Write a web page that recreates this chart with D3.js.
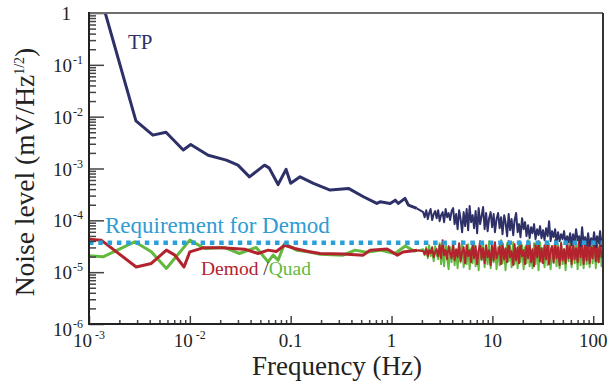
<!DOCTYPE html>
<html>
<head>
<meta charset="utf-8">
<script src="https://cdn.jsdelivr.net/npm/d3@7"></script>
<style>
  body { margin: 0; background: #fff; }
  svg text { font-family: "Liberation Serif", Tinos, "Times New Roman", Times, "DejaVu Serif", serif; }
</style>
</head>
<body>
<svg id="chart" width="610" height="385"></svg>
<script>
// TP (total power) – smooth low-frequency part, mV/Hz^1/2
const tpFreq = [1.45e-3, 2.92e-3, 4.3e-3, 5.8e-3, 8.6e-3, 1.02e-2, 1.52e-2, 2.3e-2, 3.0e-2, 3.9e-2,
  5.5e-2, 6.1e-2, 7.5e-2, 9.0e-2, 0.1, 0.124, 0.168, 0.246, 0.374, 0.526, 0.714, 0.771, 0.969,
  1.09, 1.17, 1.36, 1.47, 1.78];
const tpLevel = [1.0, 8.3e-3, 4.4e-3, 5.0e-3, 2.27e-3, 2.9e-3, 1.8e-3, 1.45e-3, 1.16e-3, 6.9e-4,
  1.16e-3, 1.03e-3, 4.9e-4, 9.6e-4, 5.2e-4, 6.9e-4, 5.15e-4, 3.83e-4, 4.13e-4, 2.85e-4, 2.12e-4,
  2.28e-4, 2.12e-4, 2.45e-4, 2.12e-4, 2.65e-4, 1.97e-4, 1.7e-4];

// Demod – smooth part
const demodFreq = [1e-3, 1.32e-3, 2.94e-3, 4.15e-3, 5.85e-3, 7.1e-3, 8.75e-3, 1.0e-2, 1.35e-2, 2.05e-2,
  3.5e-2, 4.75e-2, 5.97e-2, 7.2e-2, 8.7e-2, 0.11, 0.149, 0.196, 0.331, 0.523, 0.614, 0.904, 1.14,
  1.30, 1.79];
const demodLevel = [4.3e-5, 4.15e-5, 1.26e-5, 1.47e-5, 2.66e-5, 2.13e-5, 1.26e-5, 2.47e-5, 2.95e-5, 2.95e-5,
  2.78e-5, 2.29e-5, 2.66e-5, 2.5e-5, 3.3e-5, 2.86e-5, 2.5e-5, 2.3e-5, 2.25e-5, 2.13e-5, 2.66e-5,
  2.8e-5, 2.13e-5, 2.45e-5, 2.66e-5];

// Quad – smooth part
const quadFreq = [1e-3, 1.38e-3, 2.84e-3, 4.15e-3, 5.85e-3, 1.0e-2, 1.4e-2, 2.2e-2, 3.1e-2, 4.55e-2,
  5.97e-2, 6.7e-2, 7.5e-2, 8.7e-2, 0.114, 0.149, 0.196, 0.331, 0.435, 0.56, 0.77, 1.08, 1.37, 1.71];
const quadLevel = [2.07e-5, 1.98e-5, 3.85e-5, 2.47e-5, 1.18e-5, 4.15e-5, 2.86e-5, 3.0e-5, 2.29e-5, 3.0e-5,
  1.58e-5, 2.13e-5, 1.7e-5, 3.58e-5, 2.66e-5, 2.47e-5, 2.22e-5, 2.13e-5, 2.66e-5, 2.43e-5, 2.66e-5,
  2.3e-5, 3.2e-5, 2.5e-5];

// noisy high-frequency part: shared frequency samples (Hz)
const noiseFreq = [2.06, 2.13, 2.21, 2.29, 2.36, 2.44, 2.53, 2.62, 2.71, 2.80, 2.90, 3.00, 3.10, 3.21,
  3.32, 3.44, 3.56, 3.68, 3.81, 3.94, 4.08, 4.22, 4.37, 4.52, 4.68, 4.84, 5.01, 5.19, 5.37, 5.56,
  5.75, 5.95, 6.15, 6.37, 6.59, 6.82, 7.06, 7.31, 7.56, 7.82, 8.09, 8.38, 8.67, 8.97, 9.28, 9.61,
  9.94, 10.3, 10.6, 11.0, 11.4, 11.8, 12.2, 12.6, 13.1, 13.5, 14.0, 14.5, 15.0, 15.5, 16.1, 16.6,
  17.2, 17.8, 18.4, 19.0, 19.7, 20.4, 21.1, 21.8, 22.6, 23.4, 24.2, 25.0, 25.9, 26.8, 27.8, 28.7,
  29.7, 30.7, 31.8, 32.9, 34.1, 35.3, 36.5, 37.8, 39.1, 40.5, 41.9, 43.3, 44.8, 46.4, 48.0, 49.7,
  51.4, 53.2, 55.1, 57.0, 59.0, 61.0, 63.2, 65.4, 67.6, 70.0, 72.4, 74.9, 77.6, 80.3, 83.1, 86.0,
  89.0, 92.1, 95.3, 98.6, 102, 106, 109, 113, 117, 121, 125];

// noise levels in units of 1e-5 mV/Hz^1/2
const noiseUnit = 1e-5;
const tpNoise = [
  14.4, 11.5, 15.7, 10.6, 13.8, 16.5, 10.1, 13.2, 15.1, 11.0,
  15.7, 9.65, 12.6, 14.4, 9.23, 16.5, 11.5, 13.8, 10.1, 15.1,
  17.2, 8.45, 13.2, 6.76, 15.7, 10.6, 5.92, 14.4, 7.73, 16.5,
  6.47, 18.8, 9.23, 12.6, 7.07, 15.1, 5.66, 17.2, 8.45, 12.1,
  18.0, 6.76, 13.8, 6.19, 11.0, 14.4, 7.39, 13.2, 5.92, 10.6,
  13.8, 7.07, 11.5, 5.41, 12.6, 9.23, 4.95, 13.2, 6.47, 10.6,
  5.18, 10.1, 13.8, 5.92, 8.45, 4.74, 11.0, 6.76, 9.23, 4.95,
  8.08, 4.53, 7.39, 5.66, 8.45, 4.34, 6.76, 5.18, 7.73, 4.53,
  6.47, 4.15, 7.07, 4.95, 9.65, 3.97, 6.19, 4.74, 6.76, 3.63,
  5.92, 3.97, 5.41, 4.34, 6.19, 3.47, 4.95, 3.79, 5.66, 3.32,
  5.41, 3.63, 6.76, 4.15, 4.95, 3.18, 7.39, 3.47, 4.74, 3.32,
  5.66, 3.18, 4.53, 3.47, 5.92, 3.04, 4.95, 3.63, 6.19, 3.18, 4.74];
const demodNoise = [
  2.54, 2.22, 2.78, 2.04, 2.66, 2.33, 3.04, 1.95, 2.43, 2.78,
  2.04, 3.32, 1.86, 4.15, 2.13, 2.66, 1.78, 3.18, 2.33, 1.86,
  3.47, 1.70, 2.78, 1.95, 3.63, 1.63, 2.43, 3.04, 1.49, 3.32,
  2.04, 2.66, 1.56, 3.63, 1.86, 3.18, 1.43, 2.54, 3.97, 1.78,
  2.90, 1.49, 3.32, 1.95, 2.66, 1.36, 3.47, 1.70, 3.79, 1.86,
  2.33, 3.18, 1.43, 3.63, 1.78, 2.90, 1.56, 3.97, 1.95, 2.54,
  1.36, 3.47, 1.70, 3.04, 1.49, 3.79, 2.04, 2.66, 1.43, 3.32,
  1.86, 3.63, 1.56, 2.78, 1.30, 3.47, 1.95, 3.97, 1.63, 2.90,
  1.49, 3.32, 1.78, 3.79, 1.43, 2.66, 3.18, 1.56, 4.15, 1.86,
  3.04, 1.36, 3.63, 1.70, 2.78, 1.49, 3.97, 1.86, 3.18, 1.43,
  3.79, 1.78, 2.90, 1.56, 4.34, 1.95, 3.32, 1.43, 3.63, 1.70,
  4.15, 1.49, 3.04, 1.86, 4.53, 1.63, 3.47, 1.56, 3.79, 1.95, 2.66];
const quadNoise = [
  2.78, 2.13, 3.04, 1.86, 3.32, 2.04, 2.54, 1.63, 3.18, 2.22,
  1.78, 3.63, 1.43, 2.90, 1.30, 3.47, 1.86, 1.14, 3.04, 1.56,
  3.79, 1.36, 2.66, 1.19, 3.32, 1.56, 3.97, 1.25, 2.33, 1.43,
  3.47, 1.14, 2.90, 1.49, 3.79, 1.30, 2.54, 1.09, 3.32, 1.70,
  3.63, 1.25, 2.78, 1.43, 3.97, 1.19, 2.43, 1.56, 3.47, 1.14,
  3.04, 1.36, 4.15, 1.49, 2.66, 1.09, 3.63, 1.63, 3.18, 1.25,
  3.79, 1.43, 2.78, 1.19, 3.97, 1.56, 3.32, 1.14, 3.04, 1.49,
  4.15, 1.30, 2.54, 1.19, 3.63, 1.43, 3.18, 1.09, 3.79, 1.56,
  2.90, 1.25, 3.97, 1.36, 3.47, 1.14, 3.18, 1.49, 4.15, 1.30,
  3.32, 1.19, 3.79, 1.43, 2.78, 1.09, 3.63, 1.63, 3.97, 1.25,
  3.18, 1.49, 4.15, 1.14, 3.47, 1.36, 3.79, 1.19, 4.34, 1.43,
  3.32, 1.25, 3.97, 1.49, 4.15, 1.19, 3.18, 1.56, 4.34, 1.30, 2.66];

const requirement = 3.7e-5;

const xTicks = [1e-3, 1e-2, 0.1, 1, 10, 100];
const xTickLabels = [["10", "-3"], ["10", "-2"], ["0.1", ""], ["1", ""], ["10", ""], ["100", ""]];
const yTicks = [1, 1e-1, 1e-2, 1e-3, 1e-4, 1e-5, 1e-6];
const yTickLabels = [["1", ""], ["10", "-1"], ["10", "-2"], ["10", "-3"], ["10", "-4"], ["10", "-5"], ["10", "-6"]];

const svg = d3.select("#chart");
const mLeft = 89, mRight = 603, mTop = 13, mBottom = 324;

const x = d3.scaleLog().domain([1e-3, 125]).range([mLeft, mRight]);
const y = d3.scaleLog().domain([1e-6, 1]).range([mBottom, mTop]);

// minor tick values 2..9 per decade
const minorVals = (lo, hi) => {
  const out = [];
  for (let e = lo; e < hi; e++) for (let m = 2; m <= 9; m++) out.push(m * Math.pow(10, e));
  return out;
};
const xMinor = minorVals(-3, 3).filter(v => v <= 125);
const yMinor = minorVals(-6, 0);

svg.append("defs").append("clipPath").attr("id", "plot")
  .append("rect").attr("x", mLeft).attr("y", mTop).attr("width", mRight - mLeft).attr("height", mBottom - mTop);

// data
const line = d3.line().x(d => x(d[0])).y(d => y(d[1]));
const pairs = (f, v, k = 1) => f.map((d, i) => [d, v[i] * k]);

const g = svg.append("g").attr("clip-path", "url(#plot)");
const series = [
  { smooth: pairs(quadFreq, quadLevel), noise: pairs(noiseFreq, quadNoise, noiseUnit), color: "#62b93e" },
  { smooth: pairs(demodFreq, demodLevel), noise: pairs(noiseFreq, demodNoise, noiseUnit), color: "#b3232d" },
  { smooth: pairs(tpFreq, tpLevel), noise: pairs(noiseFreq, tpNoise, noiseUnit), color: "#2e3068" }
];
series.forEach(s => {
  g.append("path")
    .attr("d", line(s.smooth))
    .attr("fill", "none").attr("stroke", s.color)
    .attr("stroke-width", 3).attr("stroke-linejoin", "round");
  g.append("path")
    .attr("d", line([s.smooth[s.smooth.length - 1]].concat(s.noise)))
    .attr("fill", "none").attr("stroke", s.color)
    .attr("stroke-width", 2).attr("stroke-linejoin", "round");
});

g.append("line")
  .attr("x1", x(1e-3)).attr("x2", x(125))
  .attr("y1", y(requirement)).attr("y2", y(requirement))
  .attr("stroke", "#2a9fd8").attr("stroke-width", 4.5)
  .attr("stroke-dasharray", "4.5 4.8");

// axes (ticks point inward, labels drawn separately)
const axisStyle = sel => {
  sel.select(".domain").remove();
  sel.selectAll(".tick text").remove();
  sel.selectAll(".tick line").attr("stroke", "#444").attr("stroke-width", 1.5);
};
svg.append("g").attr("transform", `translate(0,${mBottom})`)
  .call(d3.axisBottom(x).tickValues(xMinor).tickSize(-4)).call(axisStyle);
svg.append("g").attr("transform", `translate(0,${mBottom})`)
  .call(d3.axisBottom(x).tickValues(xTicks).tickSize(-8)).call(axisStyle);
svg.append("g").attr("transform", `translate(${mLeft},0)`)
  .call(d3.axisLeft(y).tickValues(yMinor).tickSize(-7)).call(axisStyle);
svg.append("g").attr("transform", `translate(${mLeft},0)`)
  .call(d3.axisLeft(y).tickValues(yTicks).tickSize(-15)).call(axisStyle);

// frame
svg.append("line").attr("x1", mLeft).attr("x2", mRight).attr("y1", mTop).attr("y2", mTop)
  .attr("stroke", "#6e6e6e").attr("stroke-width", 2);
svg.append("line").attr("x1", mRight).attr("x2", mRight).attr("y1", mTop).attr("y2", mBottom)
  .attr("stroke", "#333").attr("stroke-width", 2);
svg.append("line").attr("x1", mLeft).attr("x2", mLeft).attr("y1", mTop - 1).attr("y2", mBottom + 1)
  .attr("stroke", "#222").attr("stroke-width", 2);
svg.append("line").attr("x1", mLeft - 1).attr("x2", mRight + 1).attr("y1", mBottom).attr("y2", mBottom)
  .attr("stroke", "#222").attr("stroke-width", 2);

// tick labels
const xl = svg.append("g").selectAll("text").data(xTicks).join("text")
  .attr("x", d => x(d)).attr("y", 347)
  .attr("text-anchor", "middle").attr("font-size", 19).attr("fill", "#222");
xl.append("tspan").text((d, i) => xTickLabels[i][0]);
xl.filter((d, i) => xTickLabels[i][1]).append("tspan")
  .attr("dx", 3).attr("dy", -8).attr("font-size", 12)
  .text(d => xTickLabels[xTicks.indexOf(d)][1]);

const yl = svg.append("g").selectAll("text").data(yTicks).join("text")
  .attr("x", (d, i) => yTickLabels[i][1] ? 83 : 71)
  .attr("y", (d, i) => y(d) + (i === yTicks.length - 1 ? 12 : 7))
  .attr("text-anchor", "end").attr("font-size", 19).attr("fill", "#222");
yl.append("tspan").text((d, i) => yTickLabels[i][0]);
yl.filter((d, i) => yTickLabels[i][1]).append("tspan")
  .attr("dx", 1).attr("dy", -8).attr("font-size", 12)
  .text(d => yTickLabels[yTicks.indexOf(d)][1]);

// axis titles
svg.append("text").attr("x", 337).attr("y", 375).attr("text-anchor", "middle")
  .attr("font-size", 27).attr("fill", "#222").text("Frequency (Hz)");
const yt = svg.append("text").attr("transform", "translate(34,172) rotate(-90)")
  .attr("text-anchor", "middle").attr("font-size", 27.5).attr("fill", "#222");
yt.append("tspan").text("Noise level (mV/Hz");
yt.append("tspan").attr("dy", -10).attr("font-size", 14).text("1/2");
yt.append("tspan").attr("dy", 10).text(")");

// annotations
svg.append("text").attr("x", 128).attr("y", 49).attr("font-size", 21)
  .attr("fill", "#2e3068").text("TP");
svg.append("text").attr("x", 105).attr("y", 233).attr("font-size", 23)
  .attr("fill", "#2f9cd3").text("Requirement for Demod");
const dq = svg.append("text").attr("x", 201).attr("y", 275).attr("font-size", 19.5);
dq.append("tspan").attr("fill", "#b3232d").text("Demod ");
dq.append("tspan").attr("fill", "#333").text("/");
dq.append("tspan").attr("fill", "#62b93e").text("Quad");
</script>
</body>
</html>
